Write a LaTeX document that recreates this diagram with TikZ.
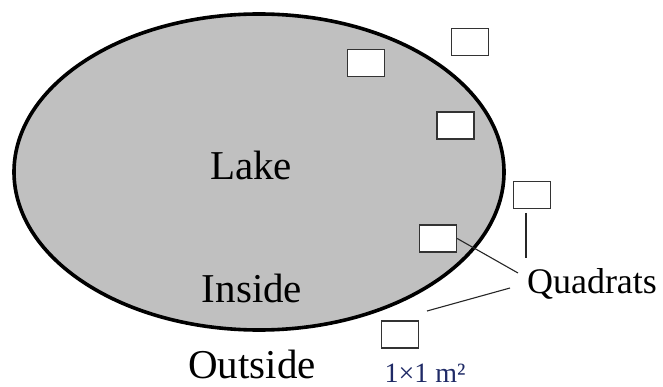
\documentclass[tikz,border=0pt]{standalone}
\usepackage{fontspec}
\setmainfont{Liberation Serif}
\definecolor{lakegray}{HTML}{C0C0C0}
\definecolor{quadedge}{HTML}{333333}
\definecolor{unitblue}{HTML}{1F2A66}
\begin{document}
\begin{tikzpicture}[x=1pt,y=-1pt,
  quadrat/.style={draw=quadedge, line width=1.4pt, fill=white,
    minimum width=37pt, minimum height=27pt, inner sep=0pt},
  bigtext/.style={inner sep=0pt, anchor=base, font=\fontsize{41}{41}\selectfont},
  labeltext/.style={inner sep=0pt, anchor=base, font=\fontsize{36}{36}\selectfont},
  unittext/.style={inner sep=0pt, anchor=base, text=unitblue, font=\fontsize{28}{28}\selectfont},
  leader/.style={line width=1.1pt, draw=black!85}]
\useasboundingbox (0,0) rectangle (663,387);

% the lake
\draw[fill=lakegray, line width=3.6pt] (259,172) ellipse [x radius=245, y radius=158];

% quadrats inside, on the shore and outside
\node[quadrat] (q1) at (366,63) {};
\node[quadrat] (q2) at (470,42) {};
\node[quadrat] (q3) at (455.5,125.5) {};
\node[quadrat] (q4) at (532,195) {};
\node[quadrat] (q5) at (438,238.5) {};
\node[quadrat] (q6) at (400,334.5) {};

% labels
\node[bigtext] (lake) at (251,180) {Lake};
\node[bigtext] (inside) at (252,302) {Inside};
\node[bigtext] (outside) at (252,378) {Outside};
\node[labeltext] (quad) at (592,293) {Quadrats};
\node[unittext] (unit) at (425,382) {1×1 m²};

% leader lines to the label
\coordinate (l1) at (518,273);
\coordinate (l2a) at (526,213);
\coordinate (l2b) at (526,258);
\coordinate (l3a) at (510,288);
\coordinate (l3b) at (427,311);
\draw[leader] (q5.east) -- (l1);
\draw[leader] (l2a) -- (l2b);
\draw[leader] (l3a) -- (l3b);
\end{tikzpicture}
\end{document}
